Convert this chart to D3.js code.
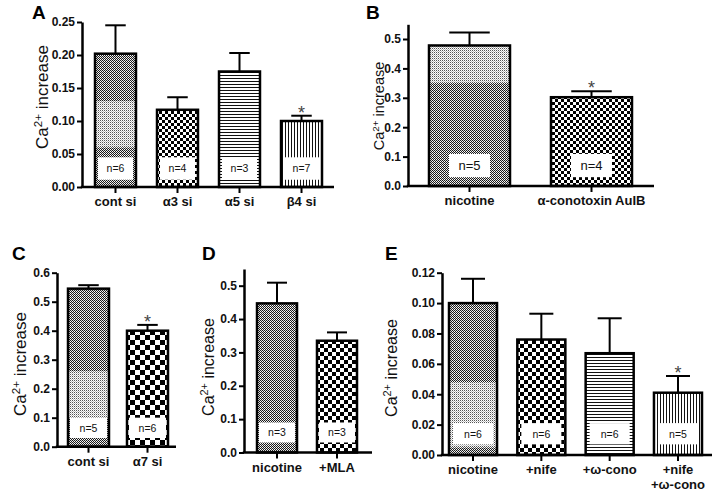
<!DOCTYPE html>
<html><head><meta charset="utf-8">
<script src="https://cdn.jsdelivr.net/npm/d3@7"></script>
<style>
html,body{margin:0;padding:0;background:#fff;}
svg{display:block;font-family:"Liberation Sans",Arial,sans-serif;}
</style></head><body>
<svg id="chart" width="716" height="491"></svg>
<script>
// ---------- DATA ----------
// Panel A
const catsA = ["cont si", "α3 si", "α5 si", "β4 si"];
const valsA = [0.202, 0.117, 0.175, 0.100];
const errA  = [0.043, 0.019, 0.028, 0.008];
const nA    = ["n=6", "n=4", "n=3", "n=7"];
const sigA  = [false, false, false, true];
const ticksA = [0, 0.05, 0.10, 0.15, 0.20, 0.25];
// Panel B
const catsB = ["nicotine", "α-conotoxin AuIB"];
const valsB = [0.478, 0.302];
const errB  = [0.044, 0.020];
const nB    = ["n=5", "n=4"];
const sigB  = [false, true];
const ticksB = [0, 0.1, 0.2, 0.3, 0.4, 0.5];
// Panel C
const catsC = ["cont si", "α7 si"];
const valsC = [0.545, 0.400];
const errC  = [0.012, 0.020];
const nC    = ["n=5", "n=6"];
const sigC  = [false, true];
const ticksC = [0, 0.1, 0.2, 0.3, 0.4, 0.5, 0.6];
// Panel D
const catsD = ["nicotine", "+MLA"];
const valsD = [0.447, 0.335];
const errD  = [0.062, 0.025];
const nD    = ["n=3", "n=3"];
const sigD  = [false, false];
const ticksD = [0, 0.1, 0.2, 0.3, 0.4, 0.5];
// Panel E
const catsE = ["nicotine", "+nife", "+ω-cono", "+nife\n+ω-cono"];
const valsE = [0.100, 0.076, 0.067, 0.041];
const errE  = [0.016, 0.017, 0.023, 0.011];
const nE    = ["n=6", "n=6", "n=6", "n=5"];
const sigE  = [false, false, false, true];
const ticksE = [0, 0.02, 0.04, 0.06, 0.08, 0.10, 0.12];

// ---------- LAYOUT / STYLE ----------
const panels = [
  {letter:"A", lx:32, ly:19, cats:catsA, vals:valsA, errs:errA, ns:nA, sig:sigA, ticks:ticksA, fmt:".2f",
   ymax:0.25, yBase:187, yTop:22, axisX:82, axisEnd:334, barRange:[95,322], pad:0.339,
   fills:["dither","check3","hlines","vlines"], light:[[0.06,0.13],null,null,null],
   box:[0.011,0.045], inset:3, nFont:10.5, title:{x:48,y:97,size:17}},
  {letter:"B", lx:366, ly:19, cats:catsB, vals:valsB, errs:errB, ns:nB, sig:sigB, ticks:ticksB, fmt:".1f",
   ymax:0.55, yBase:186, yTop:24.3, axisX:408, axisEnd:654, barRange:[429,632], pad:0.336,
   fills:["dither","check3"], light:[[0.35,0.478],null],
   box:[0.03,0.109], inset:20, nFont:13, title:{x:384,y:106,size:14.5}},
  {letter:"C", lx:12, ly:260, cats:catsC, vals:valsC, errs:errC, ns:nC, sig:sigC, ticks:ticksC, fmt:".1f",
   ymax:0.6, yBase:446.7, yTop:272.7, axisX:57, axisEnd:176, barRange:[68,168], pad:0.305,
   fills:["dither","check5"], light:[[0.10,0.26],null],
   box:[0.03,0.10], inset:2, nFont:10.5, title:{x:26,y:364,size:17}},
  {letter:"D", lx:202, ly:260, cats:catsD, vals:valsD, errs:errD, ns:nD, sig:sigD, ticks:ticksD, fmt:".1f",
   ymax:0.55, yBase:452.5, yTop:269, axisX:244, axisEnd:372, barRange:[257,357], pad:0.333,
   fills:["dither","check4"], light:[null,null],
   box:[0.03,0.09], inset:2, nFont:10.5, title:{x:214,y:367,size:16}},
  {letter:"E", lx:385, ly:260, cats:catsE, vals:valsE, errs:errE, ns:nE, sig:sigE, ticks:ticksE, fmt:".2f",
   ymax:0.12, yBase:455, yTop:272.7, axisX:442, axisEnd:712, barRange:[449,702], pad:0.297,
   fills:["dither","check4","hlines","vlines"], light:[[0.005,0.048],null,null,null],
   box:[0.007,0.021], inset:4, nFont:10.5, title:{x:397,y:368,size:16}}
];

const svg = d3.select("#chart");
const defs = svg.append("defs");

function pattern(id, w, h, rects) {
  const p = defs.append("pattern").attr("id", id).attr("patternUnits", "userSpaceOnUse")
    .attr("width", w).attr("height", h);
  p.append("rect").attr("width", w).attr("height", h).attr("fill", "#fff");
  rects.forEach(r => p.append("rect").attr("x", r[0]).attr("y", r[1]).attr("width", r[2]).attr("height", r[3]).attr("fill", r[4]));
}
pattern("dither", 2, 2, [[0,0,1,1,"#1a1a1a"],[1,1,1,1,"#1a1a1a"],[1,0,1,1,"#d8d8d8"]]);
pattern("lightdots", 2, 2, [[0,0,1,1,"#555"],[1,1,1,1,"#bbb"]]);
[3,4,5].forEach(s => pattern("check"+s, 2*s, 2*s, [[0,0,s,s,"#000"],[s,s,s,s,"#000"]]));
pattern("hlines", 4, 3, [[0,0,4,1,"#111"]]);
pattern("vlines", 3, 4, [[0,0,1,4,"#111"]]);

function drawPanel(c) {
  const g = svg.append("g");
  const y = d3.scaleLinear().domain([0, c.ymax]).range([c.yBase, c.yTop]);
  const x = d3.scaleBand().domain(c.cats).range(c.barRange).paddingInner(c.pad).paddingOuter(0);
  const bw = x.bandwidth();

  // panel letter
  g.append("text").attr("x", c.lx).attr("y", c.ly).attr("font-size", 19).attr("font-weight", "bold")
    .attr("fill", "#000").text(c.letter);

  // y title
  const t = g.append("text").attr("transform", `translate(${c.title.x},${c.title.y}) rotate(-90)`)
    .attr("text-anchor", "middle").attr("font-size", c.title.size).attr("fill", "#111");
  t.append("tspan").text("Ca");
  t.append("tspan").attr("font-size", c.title.size * 0.68).attr("dy", -c.title.size * 0.38).text("2+");
  t.append("tspan").attr("dy", c.title.size * 0.38).text(" increase");

  const data = c.cats.map((cat, i) => ({cat, v: c.vals[i], e: c.errs[i], n: c.ns[i], sig: c.sig[i],
    fill: c.fills[i], light: c.light[i]}));

  // bars
  g.selectAll("rect.bar").data(data).join("rect").attr("class", "bar")
    .attr("x", d => x(d.cat)).attr("y", d => y(d.v)).attr("width", bw)
    .attr("height", d => y(0) - y(d.v)).attr("fill", d => `url(#${d.fill})`);
  // lighter shading bands
  g.selectAll("rect.light").data(data.filter(d => d.light)).join("rect").attr("class", "light")
    .attr("x", d => x(d.cat)).attr("y", d => y(Math.min(d.light[1], d.v))).attr("width", bw)
    .attr("height", d => y(d.light[0]) - y(Math.min(d.light[1], d.v))).attr("fill", "url(#lightdots)");
  // n= boxes
  g.selectAll("rect.nbox").data(data).join("rect").attr("class", "nbox")
    .attr("x", d => x(d.cat) + c.inset).attr("y", y(c.box[1])).attr("width", bw - 2 * c.inset)
    .attr("height", y(c.box[0]) - y(c.box[1])).attr("fill", "#fff");
  g.selectAll("text.ntxt").data(data).join("text").attr("class", "ntxt")
    .attr("x", d => x(d.cat) + bw / 2).attr("y", (y(c.box[0]) + y(c.box[1])) / 2 + c.nFont * 0.36)
    .attr("text-anchor", "middle").attr("font-size", c.nFont).attr("fill", "#111").text(d => d.n);
  // outlines
  g.selectAll("rect.outline").data(data).join("rect").attr("class", "outline")
    .attr("x", d => x(d.cat)).attr("y", d => y(d.v)).attr("width", bw)
    .attr("height", d => y(0) - y(d.v)).attr("fill", "none").attr("stroke", "#000").attr("stroke-width", 2.5);
  // error bars
  g.selectAll("line.err").data(data).join("line").attr("class", "err")
    .attr("x1", d => x(d.cat) + bw / 2).attr("x2", d => x(d.cat) + bw / 2)
    .attr("y1", d => y(d.v)).attr("y2", d => y(d.v + d.e)).attr("stroke", "#000").attr("stroke-width", 2);
  g.selectAll("line.cap").data(data).join("line").attr("class", "cap")
    .attr("x1", d => x(d.cat) + bw / 4).attr("x2", d => x(d.cat) + 3 * bw / 4)
    .attr("y1", d => y(d.v + d.e)).attr("y2", d => y(d.v + d.e)).attr("stroke", "#000").attr("stroke-width", 2);
  // significance
  g.selectAll("text.sig").data(data.filter(d => d.sig)).join("text").attr("class", "sig")
    .attr("x", d => x(d.cat) + bw / 2).attr("y", d => y(d.v + d.e) + 3)
    .attr("text-anchor", "middle").attr("font-size", 18).attr("fill", "#444").text("*");

  // y axis
  const ya = g.append("g").attr("transform", `translate(${c.axisX},0)`)
    .call(d3.axisLeft(y).tickValues(c.ticks).tickFormat(d3.format(c.fmt)).tickSizeInner(5).tickSizeOuter(0).tickPadding(2));
  ya.select(".domain").attr("stroke-width", 2.5);
  ya.selectAll(".tick line").attr("stroke-width", 2);
  ya.selectAll(".tick text").attr("font-size", 12).attr("font-weight", "bold").attr("fill", "#111")
    .attr("font-family", '"Liberation Sans",Arial,sans-serif');

  // x axis
  const xa = g.append("g").attr("transform", `translate(0,${c.yBase})`)
    .call(d3.axisBottom(x).tickSizeInner(6).tickSizeOuter(0).tickFormat(""));
  xa.select(".domain").remove();
  xa.selectAll(".tick line").attr("stroke-width", 2);
  g.append("line").attr("x1", c.axisX - 1.2).attr("x2", c.axisEnd).attr("y1", y(0)).attr("y2", y(0))
    .attr("stroke", "#000").attr("stroke-width", 2.5);

  // category labels
  const lab = g.selectAll("text.cat").data(data).join("text").attr("class", "cat")
    .attr("x", d => x(d.cat) + bw / 2).attr("y", c.yBase + 19)
    .attr("text-anchor", "middle").attr("font-size", 13).attr("font-weight", "bold").attr("fill", "#111");
  lab.each(function(d) {
    const lines = d.cat.split("\n");
    d3.select(this).selectAll("tspan").data(lines).join("tspan")
      .attr("x", x(d.cat) + bw / 2).attr("dy", (l, i) => i === 0 ? 0 : 15).text(l => l);
  });
}

panels.forEach(drawPanel);
</script>
</body></html>
